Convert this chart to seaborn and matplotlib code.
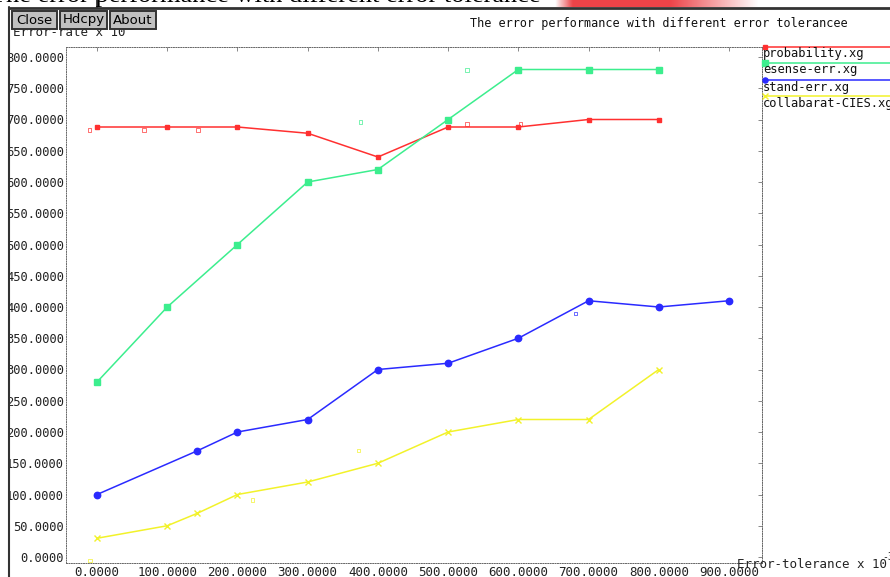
import numpy as np
import pandas as pd
import matplotlib
matplotlib.use("Agg")
import matplotlib.pyplot as plt
from matplotlib.patches import Rectangle
from matplotlib.lines import Line2D
import seaborn as sns

# ---- data -------------------------------------------------------------
series_names = ["probability.xg", "esense-err.xg", "stand-err.xg", "collabarat-CIES.xg"]

prob_x = [0, 100, 200, 300, 400, 500, 600, 700, 800]
prob_y = [688, 688, 688, 678, 640, 688, 688, 700, 700]

esense_x = [0, 100, 200, 300, 400, 500, 600, 700, 800]
esense_y = [280, 400, 500, 600, 620, 700, 780, 780, 780]

stand_x = [0, 143, 200, 300, 400, 500, 600, 700, 800, 900]
stand_y = [100, 170, 200, 220, 300, 310, 350, 410, 400, 410]

collab_x = [0, 100, 143, 200, 300, 400, 500, 600, 700, 800]
collab_y = [30, 50, 70, 100, 120, 150, 200, 220, 220, 300]

# leftover point marks scattered by the viewer
stray_series = [0, 0, 0, 0, 0, 1, 1, 2, 3, 3, 3]
stray_x = [-11, 67, 144, 527, 603, 375, 527, 681, 221, 372, -10]
stray_y = [683, 683, 683, 693, 693, 696, 779, 390, 91, 170, -6]

x_ticks = [0, 100, 200, 300, 400, 500, 600, 700, 800, 900]
y_ticks = [0, 50, 100, 150, 200, 250, 300, 350, 400, 450, 500, 550, 600, 650, 700, 750, 800]

title = "The error performance with different error tolerancee"
window_title = "The error performance with different error tolerance"
y_name = "Error-rate x 10"
x_name = "Error-tolerance x 10"
buttons = ["Close", "Hdcpy", "About"]

# ---- styling ----------------------------------------------------------
sns.set_style("white")
plt.rcParams["font.family"] = ["DejaVu Sans Mono", "DejaVu Sans"]

colors = ["#ff3030", "#3cee8e", "#2a2aff", "#f2f22a"]
markers = ["s", "s", "o", "x"]
msizes = [3.2, 4.8, 4.6, 4.6]

W, H = 890, 577
fig = plt.figure(figsize=(W / 100, H / 100), dpi=100)
fig.patch.set_facecolor("white")


def fx(px):
    return px / W


def fy(py):
    return 1 - py / H


# plot frame
L, R, T, B = 66, 762, 47, 563
ax = fig.add_axes([fx(L), fy(B), fx(R - L), (B - T) / H])
ax.set_facecolor("white")

xs_all = [prob_x, esense_x, stand_x, collab_x]
ys_all = [prob_y, esense_y, stand_y, collab_y]
frames = []
for i, (xs, ys) in enumerate(zip(xs_all, ys_all)):
    frames.append(pd.DataFrame({"tol": xs, "err": ys, "series": series_names[i]}))
df = pd.concat(frames, ignore_index=True)

for i, name in enumerate(series_names):
    sub = df[df["series"] == name]
    sns.lineplot(data=sub, x="tol", y="err", ax=ax, color=colors[i], sort=False,
                 linewidth=1.1, marker=markers[i], markersize=msizes[i],
                 markeredgecolor=colors[i], markeredgewidth=1.0, legend=False)

stray = pd.DataFrame({"tol": stray_x, "err": stray_y,
                      "series": [series_names[k] for k in stray_series]})
for i, name in enumerate(series_names):
    sub = stray[stray["series"] == name]
    ax.scatter(sub["tol"], sub["err"], s=6, marker="s", facecolors="none",
               edgecolors=colors[i], linewidths=0.6, alpha=0.8, clip_on=False)

ax.set_xlim(-44.2, 947)
ax.set_ylim(-9.6, 816)
ax.set_xticks(x_ticks)
ax.set_yticks(y_ticks)
ax.set_xticklabels([f"{v:.4f}" for v in x_ticks])
ax.set_yticklabels([f"{v:.4f}" for v in y_ticks])
ax.set_xlabel("")
ax.set_ylabel("")
ax.tick_params(direction="in", length=3, width=0.7, color="#888888",
               top=True, right=True, labelsize=9, labelcolor="#222222")
ax.tick_params(axis="y", pad=1.5, labelsize=8.7)
ax.tick_params(axis="x", pad=2)
for sp in ax.spines.values():
    sp.set_linestyle((0, (1, 1.5)))
    sp.set_color("#666666")
    sp.set_linewidth(0.7)

# axis captions
fig.text(fx(13), fy(33), y_name, fontsize=9, color="#222222", va="center", ha="left")
fig.text(fx(124), fy(27), "-3", fontsize=7, color="#222222", va="center", ha="left")
fig.text(fx(737), fy(564), x_name, fontsize=9, color="#222222", va="center", ha="left")
fig.text(fx(882), fy(557), "-3", fontsize=7, color="#222222", va="center", ha="left")
fig.text(fx(470), fy(23), title, fontsize=8.5, color="#111111", va="center", ha="left")

# legend column to the right of the frame
fig.add_artist(Line2D([fx(762), fx(762)], [fy(47), fy(563)], color="#666666",
                      lw=0.7, ls=(0, (1, 1.5))))
leg_line_y = [47, 63, 80, 96]
for i, name in enumerate(series_names):
    y = leg_line_y[i]
    fig.add_artist(Line2D([fx(764), fx(892)], [fy(y), fy(y)], color=colors[i], lw=1.1))
    fig.add_artist(Line2D([fx(765)], [fy(y)], color=colors[i], marker=markers[i],
                          markersize=msizes[i] * 0.8, markeredgecolor=colors[i]))
    fig.text(fx(763), fy(y + 7), name, fontsize=8.7, color="#111111", va="center", ha="left")

# window chrome
fig.add_artist(Rectangle((0, fy(577)), fx(9), 1, transform=fig.transFigure,
                         facecolor="white", edgecolor="none", zorder=20))
fig.add_artist(Line2D([fx(9), fx(9)], [fy(7), 0], color="#333333", lw=1.5, zorder=21))
fig.add_artist(Line2D([fx(9), 1], [fy(7.5), fy(7.5)], color="#333333", lw=2, zorder=21))
fig.add_artist(Rectangle((0, fy(7)), 1, 7 / H, transform=fig.transFigure,
                         facecolor="white", edgecolor="none", zorder=18))

# reddish glow in the top strip
gax = fig.add_axes([fx(548), fy(7), fx(222), 7 / H], zorder=19)
gx = np.linspace(0, 1, 200)
alpha = np.clip(np.minimum((gx - 0.03) / 0.08, (0.95 - gx) / 0.4), 0, 1) * 0.9
img = np.zeros((1, 200, 4))
img[..., 0] = 0.92
img[..., 1] = 0.18
img[..., 2] = 0.2
img[..., 3] = alpha
gax.imshow(img, aspect="auto", extent=[0, 1, 0, 1])
gax.axis("off")

fig.text(fx(-10), fy(2.0), window_title, fontsize=19, family="Liberation Serif",
         color="black", va="baseline", ha="left", zorder=22)
fig.add_artist(Line2D([fx(97), fx(97)], [1, fy(7)], color="#222222", lw=1.2, zorder=22))

# buttons
btn_x = [(12, 57), (60, 107), (110, 156)]
for (x0, x1), label in zip(btn_x, buttons):
    fig.add_artist(Rectangle((fx(x0), fy(29)), fx(x1 - x0), 18 / H,
                             transform=fig.transFigure, facecolor="#c0c0c0",
                             edgecolor="#333333", lw=1.4, zorder=23))
    fig.text(fx((x0 + x1) / 2), fy(20), label, fontsize=9.5, family="DejaVu Sans",
             color="black", va="center", ha="center", zorder=24)

fig.savefig("out.png", dpi=100)
